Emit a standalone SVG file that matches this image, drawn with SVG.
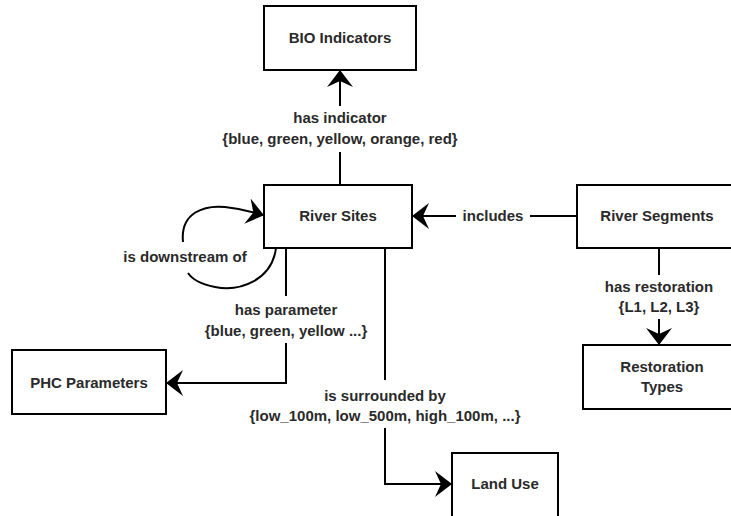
<svg xmlns="http://www.w3.org/2000/svg" width="731" height="516" viewBox="0 0 731 516">
<style>
.box{fill:#fff;stroke:#000;stroke-width:2}
.t{font-family:"Liberation Sans",Arial,sans-serif;font-size:15px;font-weight:bold;fill:#2a2a2a;text-anchor:middle}
.e{fill:none;stroke:#000;stroke-width:2}
</style>
<defs>
<marker id="arr" markerUnits="userSpaceOnUse" viewBox="0 0 17 26" refX="16" refY="13" markerWidth="17" markerHeight="26" orient="auto">
<path d="M17,13 L0,0 L6,13 L0,26 Z" fill="#000"/>
</marker>
</defs>
<rect width="731" height="516" fill="#fff"/>
<g id="connectors">
<g id="e-indicator">
<line class="e" x1="340" y1="185" x2="340" y2="152"/>
<line class="e" x1="340" y1="106" x2="340" y2="71" marker-end="url(#arr)"/>
<text class="t" x="340" y="123">has indicator</text>
<text class="t" x="340" y="144">{blue, green, yellow, orange, red}</text>
</g>
<g id="e-includes">
<line class="e" x1="577" y1="216" x2="530" y2="216"/>
<line class="e" x1="456" y1="216" x2="413" y2="216" marker-end="url(#arr)"/>
<text class="t" x="493" y="221">includes</text>
</g>
<g id="e-downstream">
<path class="e" d="M276 248 C272 280 240 292 215 287 C200 284 192 279 188 273"/>
<path class="e" d="M183 242 C180 212 205 205 225 207 C245 209 255 213 263 215" marker-end="url(#arr)"/>
<text class="t" x="185" y="262">is downstream of</text>
</g>
<g id="e-parameter">
<line class="e" x1="286" y1="248" x2="286" y2="296"/>
<polyline class="e" points="286,343 286,383 167,383" marker-end="url(#arr)"/>
<text class="t" x="286" y="315">has parameter</text>
<text class="t" x="286" y="336">{blue, green, yellow ...}</text>
</g>
<g id="e-surrounded">
<line class="e" x1="385" y1="248" x2="385" y2="380"/>
<polyline class="e" points="385,428 385,484 451,484" marker-end="url(#arr)"/>
<text class="t" x="385" y="401">is surrounded by</text>
<text class="t" x="385" y="421">{low_100m, low_500m, high_100m, ...}</text>
</g>
<g id="e-restoration">
<line class="e" x1="659" y1="248" x2="659" y2="275"/>
<line class="e" x1="659" y1="319" x2="659" y2="344" marker-end="url(#arr)"/>
<text class="t" x="659" y="292">has restoration</text>
<text class="t" x="659" y="312">{L1, L2, L3}</text>
</g>
</g>
<g id="bio">
<rect class="box" x="264" y="6" width="152" height="64"/>
<text class="t" x="340" y="43">BIO Indicators</text>
</g>
<g id="sites">
<rect class="box" x="264" y="185" width="148" height="63"/>
<text class="t" x="338" y="221">River Sites</text>
</g>
<g id="segments">
<rect class="box" x="577" y="185" width="162" height="63"/>
<text class="t" x="657" y="221">River Segments</text>
</g>
<g id="restoration">
<rect class="box" x="583" y="345" width="158" height="64"/>
<text class="t" x="662" y="372">Restoration</text>
<text class="t" x="662" y="392">Types</text>
</g>
<g id="phc">
<rect class="box" x="12" y="350" width="154" height="64"/>
<text class="t" x="89" y="388">PHC Parameters</text>
</g>
<g id="landuse">
<rect class="box" x="452" y="453" width="106" height="70"/>
<text class="t" x="505" y="489">Land Use</text>
</g>
</svg>
